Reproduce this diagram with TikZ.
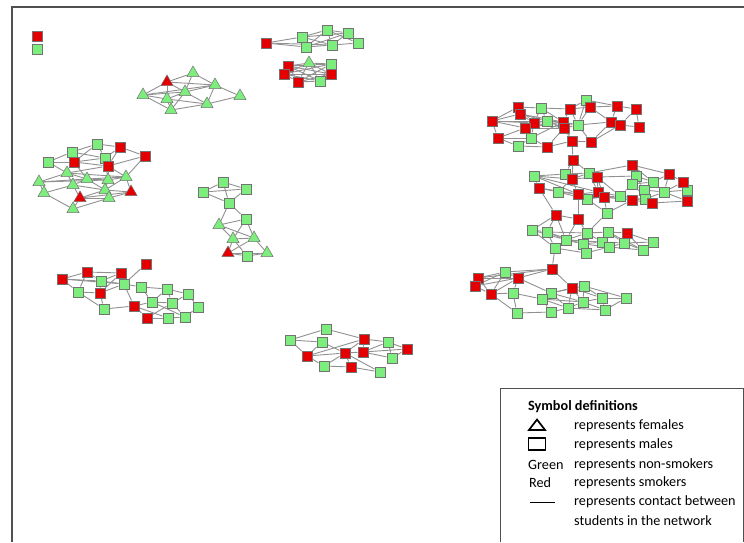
\documentclass[tikz,border=0pt]{standalone}
\usepackage{fontspec}
\setmainfont{Carlito}
\usetikzlibrary{shapes.geometric}
\definecolor{ngreen}{RGB}{125,238,125}
\definecolor{nred}{RGB}{228,0,0}
\definecolor{nline}{RGB}{145,145,145}
\definecolor{nrim}{RGB}{115,115,115}
\definecolor{framec}{RGB}{80,80,80}
\pgfdeclarelayer{bg}
\pgfdeclarelayer{paper}
\pgfsetlayers{paper,bg,main}
\tikzset{
  sqbase/.style={rectangle, draw=nrim, line width=0.5pt, minimum size=10.5pt, inner sep=0pt},
  sqg/.style={sqbase, fill=ngreen},
  sqr/.style={sqbase, fill=nred},
  trbase/.style={regular polygon, regular polygon sides=3, draw=nrim, line width=0.5pt, minimum size=14pt, inner sep=0pt},
  trg/.style={trbase, fill=ngreen},
  trr/.style={trbase, fill=nred},
  edge/.style={draw=nline, line width=0.9pt},
  legtxt/.style={anchor=west, font=\fontsize{14.2}{16}\selectfont, inner sep=0pt, text=black},
  frameline/.style={draw=framec, line width=1.3pt}
}
\begin{document}
\begin{tikzpicture}[x=1pt,y=-1pt]
\useasboundingbox (0,0) rectangle (744,542);
\begin{pgfonlayer}{paper}
\fill[white] (0,0) rectangle (744,542);
\end{pgfonlayer}
% frame
\draw[frameline] (12,542) -- (12,7) -- (744,7);
% green squares
\foreach \n/\x/\y in {i2/37/49,
 b2/302/37, b3/327/30, b4/348/33, b5/358/43, b6/332/45, b7/306/47,
 c5/331/64, c7/320/81,
 d1/48/162, d2/72/152, d3/97/144, d7/105/158,
 e1/223/182, e2/203/192, e3/246/189, e4/229/203, e5/246/219, e10/247/256,
 f5/101/281, f6/124/284, f7/78/292, f9/141/287, f10/104/309, f12/152/302, f13/167/289, f14/188/294, f15/172/303, f16/198/307, f18/168/318, f19/185/317,
 g1/326/329, g2/290/340, g3/322/342, g6/388/342, g10/392/358, g11/324/366, g13/380/372,
 h4/541/108, h5/586/100, h11/547/121, h15/578/125, h20/531/138, h21/518/146,
 j1/534/176, j2/565/174, j3/589/173, j9/636/176, j10/632/184, j11/653/182, j13/558/192, j16/644/190, j17/664/192, j18/687/190, j19/587/199, j21/620/196, j23/645/199, j26/607/213,
 k3/532/230, k4/547/232, k5/587/233, k6/608/232, k8/566/240, k9/583/244, k10/602/242, k11/624/243, k12/653/242, k13/555/248, k14/586/253, k15/609/247, k16/643/250,
 l2/505/272, l7/513/293, l9/584/286, l10/551/293, l11/542/299, l12/602/298, l13/626/298, l14/583/302, l15/605/310, l16/568/308, l17/551/312, l18/517/313}
 \node[sqg] (\n) at (\x,\y) {};
% red squares
\foreach \n/\x/\y in {i1/37/36, b1/266/43, c1/288/66, c2/284/74, c3/298/82, c6/331/74,
 d4/120/147, d5/145/156, d6/74/162, d8/108/166,
 f1/62/279, f2/87/272, f3/121/273, f4/146/264, f8/100/293, f11/134/306, f17/147/318,
 g4/307/356, g5/364/339, g7/407/349, g8/345/353, g9/363/352, g12/351/367,
 h1/492/121, h2/518/107, h3/520/114, h6/570/109, h7/590/107, h8/617/106, h9/636/109, h10/534/123, h12/525/128, h13/563/122, h14/564/128, h16/611/122, h17/620/125, h18/639/127, h19/498/138, h22/547/147, h23/572/141, h24/591/142, h25/573/160,
 j4/572/179, j5/597/177, j6/632/165, j7/669/174, j8/683/182, j12/539/188, j14/578/194, j15/598/192, j20/604/197, j22/632/200, j24/652/203, j25/687/201,
 k1/556/215, k2/578/219, k7/627/233,
 l1/552/269, l3/478/278, l4/475/286, l5/518/278, l6/491/294, l8/572/288}
 \node[sqr] (\n) at (\x,\y) {};
% green triangles
\foreach \n/\x/\y in {a2/193/73, a3/215/85, a4/240/96, a5/143/95, a6/167/99, a7/185/92, a8/207/104, a9/171/110,
 c4/309/63,
 d9/39/182, d10/67/173, d11/87/179, d12/108/180, d13/126/177, d14/44/193, d15/73/185, d17/105/190, d19/109/198, d20/73/209,
 e6/219/225, e7/233/239, e8/254/238, e11/267/253}
 \node[trg] (\n) at (\x,\y) {};
% red triangles
\foreach \n/\x/\y in {a1/167/82, d16/80/198, d18/131/192, e9/228/253}
 \node[trr] (\n) at (\x,\y) {};
% edges
\begin{pgfonlayer}{bg}
\foreach \u/\v in {
 a5/a1, a5/a6, a5/a7, a5/a9, a5/a3, a1/a2, a1/a7, a1/a3, a1/a6, a2/a3, a2/a7, a3/a4, a3/a8, a3/a7, a4/a8, a7/a9, a7/a6, a6/a8, a9/a8, a6/a9, a7/a8,
 b1/b2, b1/b7, b1/b6, b2/b3, b2/b7, b2/b6, b2/b4, b3/b4, b3/b6, b3/b7, b3/b5, b4/b5, b4/b6, b5/b6, b6/b7, b7/b4,
 c1/c2, c1/c3, c1/c4, c1/c5, c1/c6, c1/c7, c2/c3, c2/c4, c2/c5, c2/c6, c2/c7, c3/c4, c3/c5, c3/c6, c3/c7, c4/c5, c4/c6, c4/c7, c5/c6, c5/c7, c6/c7,
 d1/d2, d1/d6, d1/d10, d2/d3, d2/d6, d2/d7, d3/d4, d3/d7, d3/d6, d4/d5, d4/d7, d4/d8, d5/d8, d5/d13, d6/d7, d6/d8, d6/d11, d7/d8, d7/d12, d8/d12, d8/d13, d8/d10,
 d9/d10, d9/d11, d9/d14, d9/d12, d10/d11, d10/d15, d10/d13, d11/d12, d11/d15, d11/d17, d12/d13, d12/d17, d13/d18, d13/d17, d14/d15, d14/d20, d15/d16, d15/d17, d16/d17, d16/d19, d16/d18, d17/d18, d17/d19, d18/d19, d19/d20, d20/d16, d11/d13,
 e1/e2, e1/e3, e1/e4, e2/e3, e2/e4, e3/e4, e4/e6, e4/e5, e6/e5, e6/e7, e5/e7, e5/e8, e7/e8, e7/e9, e7/e10, e8/e9, e8/e11, e9/e10, e9/e11, e10/e11, e6/e8,
 f1/f2, f1/f7, f1/f5, f1/f6, f2/f3, f2/f5, f2/f7, f3/f5, f3/f6, f3/f8, f4/f6, f5/f8, f5/f6, f7/f8, f7/f10, f8/f6, f6/f9, f6/f11, f9/f13, f9/f12, f10/f11, f10/f8, f11/f12, f11/f17, f12/f15, f12/f13, f13/f14, f13/f15, f14/f16, f15/f14, f15/f19, f17/f18, f18/f19, f19/f16, f17/f15, f11/f18, f12/f19,
 g2/g1, g2/g3, g2/g4, g1/g5, g3/g4, g3/g8, g4/g8, g4/g11, g8/g9, g8/g5, g8/g12, g8/g11, g5/g6, g5/g9, g6/g7, g6/g10, g9/g10, g9/g7, g11/g12, g12/g13, g8/g13, g9/g6, g10/g7, g4/g5,
 h1/h2, h1/h3, h1/h10, h1/h12, h1/h19, h1/h11, h2/h3, h2/h4, h2/h10, h3/h10, h3/h11, h3/h13, h4/h6, h4/h11, h4/h10, h4/h13, h5/h7, h5/h6, h5/h15, h5/h8, h6/h7, h6/h13, h6/h15, h7/h8, h7/h16, h7/h15, h8/h9, h8/h16, h9/h18, h9/h17, h10/h11, h10/h12, h10/h14, h11/h13, h11/h14, h11/h15, h12/h20, h12/h14, h12/h19, h13/h14, h13/h15, h14/h15, h14/h23, h14/h22, h15/h16, h15/h24, h16/h17, h17/h18, h16/h24, h17/h24, h19/h21, h19/h20, h20/h22, h20/h21, h21/h22, h22/h23, h23/h24, h23/h25, h13/h20, h10/h20, h13/h23, h12/h13,
 h25/j2, h25/j4, h25/j3,
 j1/j2, j1/j4, j1/j12, j1/j14, j2/j4, j2/j3, j3/j5, j3/j4, j3/j15, j4/j5, j4/j14, j4/j13, j5/j15, j5/j20, j5/j9, j6/j3, j6/j9, j6/j7, j6/j11, j7/j8, j7/j11, j7/j17, j8/j18, j8/j17, j9/j10, j9/j11, j9/j16, j10/j11, j10/j21, j10/j16, j11/j17, j11/j16, j12/j13, j12/j14, j13/j14, j13/j19, j14/j15, j14/j19, j14/j20, j15/j20, j15/j19, j15/j21, j16/j17, j16/j23, j17/j18, j17/j25, j18/j25, j19/j20, j20/j21, j20/j22, j21/j22, j21/j23, j22/j23, j22/j24, j23/j24, j24/j25, j19/j26, j20/j26, j23/j17, j10/j24, j5/j21, j1/j15, j14/j22,
 k1/j12, k2/j14, j26/k5, j26/j22,
 k1/k3, k1/k2, k1/k4, k1/k8, k2/k5, k2/k8, k3/k4, k3/k13, k3/k8, k4/k8, k4/k13, k4/k9, k5/k6, k5/k9, k5/k8, k5/k10, k6/k7, k6/k10, k6/k11, k7/k11, k7/k16, k7/k12, k8/k9, k8/k13, k9/k10, k9/k14, k9/k15, k10/k15, k10/k11, k11/k16, k11/k12, k11/k15, k12/k16, k13/k14, k14/k15, k15/k16, k8/k10, k4/k5, k6/k16,
 k13/l1,
 l1/l2, l1/l5, l1/l8, l1/l3, l2/l3, l2/l4, l2/l5, l2/l6, l3/l4, l3/l5, l3/l6, l4/l6, l4/l5, l5/l6, l5/l7, l5/l10, l6/l7, l6/l18, l7/l11, l7/l18, l8/l9, l8/l10, l8/l14, l8/l12, l8/l16, l9/l12, l9/l14, l9/l13, l10/l11, l10/l14, l10/l16, l11/l17, l11/l16, l12/l13, l12/l15, l12/l14, l13/l15, l14/l15, l14/l16, l16/l17, l17/l18, l15/l16, l10/l9, l11/l14}
 \draw[edge] (\u) -- (\v);
\end{pgfonlayer}
% legend
\draw[frameline, line width=1pt] (500,542) -- (500,388) -- (743,388) -- (743,542);
\node[legtxt, font=\fontsize{14.2}{16}\selectfont\bfseries] (lhead) at (528,407) {Symbol definitions};
\node[isosceles triangle, isosceles triangle apex angle=75, shape border rotate=90, draw=black, line width=1.7pt, minimum width=16pt, minimum height=10pt, inner sep=0pt] (lsymtri) at (537,426) {};
\node[rectangle, draw=black, line width=1.8pt, minimum width=17pt, minimum height=12pt, inner sep=0pt] (lsymsq) at (537,444) {};
\node[legtxt] (lgreen) at (528,465) {Green};
\node[legtxt] (lred) at (529,483) {Red};
\coordinate (lla) at (530,502);
\coordinate (llb) at (555,502);
\draw[black, line width=0.9pt] (lla) -- (llb);
\node[legtxt] (lt1) at (574,426) {represents females};
\node[legtxt] (lt2) at (574,445) {represents males};
\node[legtxt] (lt3) at (574,465) {represents non-smokers};
\node[legtxt] (lt4) at (574,483) {represents smokers};
\node[legtxt] (lt5) at (574,502) {represents contact between};
\node[legtxt] (lt6) at (574,521) {students in the network};
\end{tikzpicture}
\end{document}
